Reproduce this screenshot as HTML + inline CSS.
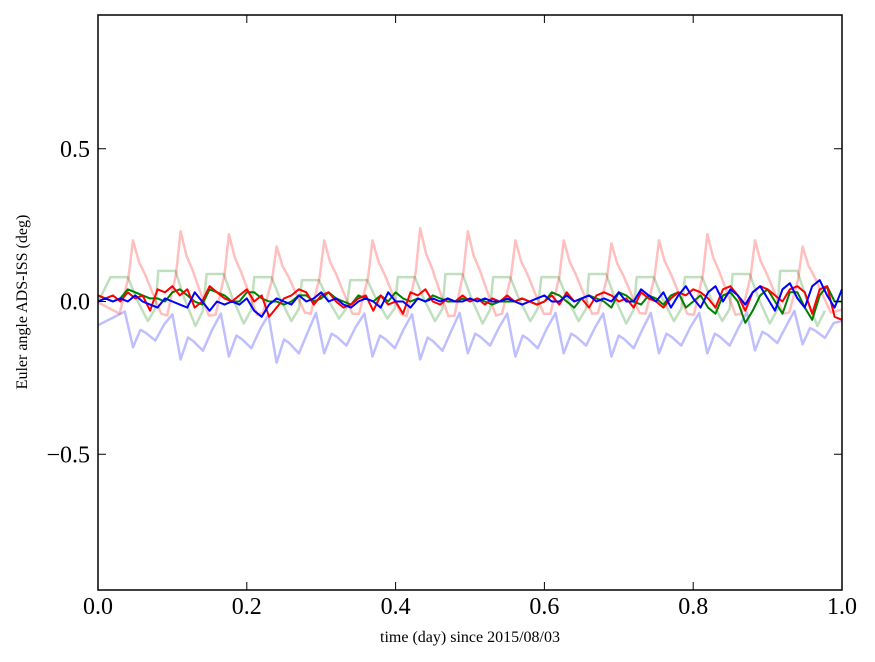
<!DOCTYPE html>
<html><head><meta charset="utf-8"><style>
body{margin:0;background:#fff;}
svg{display:block;font-family:"Liberation Serif",serif;}
</style></head><body>
<svg id="chart" width="875" height="662" viewBox="0 0 875 662">
<rect x="0" y="0" width="875" height="662" fill="#fff"/>
<defs><clipPath id="clip"><rect x="98" y="15" width="744" height="575"/></clipPath></defs>
<g id="series" clip-path="url(#clip)"></g>
<rect x="98" y="15" width="744" height="575" fill="none" stroke="#000" stroke-width="1.5"/>
<g id="ticks"></g>
<text x="470" y="642" font-size="16" text-anchor="middle">time (day) since 2015/08/03</text>
<text transform="translate(27,302) rotate(-90)" font-size="16" text-anchor="middle">Euler angle ADS-ISS (deg)</text>
</svg>
<script>
const xTicks=[0,0.2,0.4,0.6,0.8,1.0];
const xTickLabels=["0.0","0.2","0.4","0.6","0.8","1.0"];
const yTicks=[-0.5,0,0.5];
const yTickLabels=["\u22120.5","0.0","0.5"];
// orbital peak times (day) for light series
const orbitTimes=[0.047,0.111,0.176,0.240,0.304,0.369,0.433,0.497,0.561,0.626,0.690,0.754,0.819,0.883,0.947];
const pinkPeaks=[0.20,0.23,0.22,0.18,0.20,0.20,0.24,0.23,0.20,0.20,0.19,0.20,0.22,0.20,0.18];
const lightBlueDips=[-0.15,-0.19,-0.18,-0.20,-0.17,-0.18,-0.19,-0.17,-0.18,-0.17,-0.18,-0.17,-0.17,-0.16,-0.14];
const lightGreenPeaks=[0.08,0.10,0.09,0.08,0.07,0.07,0.08,0.09,0.08,0.08,0.09,0.08,0.08,0.09,0.10];
const pinkShapeOffsets=[-0.018,-0.006,0,0.008,0.016,0.026,0.038];
const pinkShape=[-0.2,0.4,1,0.65,0.45,0.15,-0.2];
const blueShapeOffsets=[-0.011,0,0.01,0.017,0.03,0.042];
const blueShape=[0.22,1,0.62,0.68,0.85,0.5];
const greenShapeOffsets=[-0.03,-0.007,0.005,0.02,0.03];
const greenShape=[1,1,0.1,-0.8,-0.3];
const darkRed=[0.02,0.01,0.02,0.00,0.03,0.01,0.02,-0.03,0.04,0.03,0.05,0.02,0.04,-0.02,0.00,0.05,0.03,0.01,0.00,0.02,0.04,0.00,0.02,-0.05,-0.02,0.01,0.02,0.04,0.03,-0.01,0.02,0.03,0.00,-0.02,-0.01,0.01,0.02,-0.03,0.02,-0.01,0.00,-0.04,0.03,0.02,0.04,0.00,-0.01,0.01,0.00,0.02,0.00,0.01,-0.01,0.01,0.00,0.02,0.00,0.01,0.00,-0.01,0.00,0.02,-0.01,0.03,0.00,0.01,-0.02,0.02,0.03,0.02,0.00,0.01,-0.02,0.03,0.01,0.00,-0.02,0.01,0.03,0.02,0.04,0.03,0.01,-0.02,0.04,0.05,0.02,-0.03,0.03,0.05,0.04,0.02,0.00,0.04,0.05,0.03,-0.04,0.04,0.05,-0.05,-0.06];
const darkGreen=[0.02,0.01,0.00,0.01,0.04,0.03,0.02,0.01,0.01,0.00,0.03,0.04,0.02,0.00,-0.01,0.04,0.03,0.02,0.00,0.00,0.03,0.03,0.01,0.00,0.00,-0.01,0.00,0.02,0.02,0.00,0.01,0.03,0.01,0.00,-0.01,0.02,0.01,0.00,0.02,0.00,0.03,0.01,0.00,0.01,0.00,0.02,0.01,0.00,0.00,0.01,0.00,0.01,0.00,-0.01,0.00,0.00,0.00,0.01,0.00,-0.01,0.00,0.03,0.02,0.00,-0.02,0.01,0.02,0.01,0.00,-0.02,0.03,0.02,0.00,-0.01,0.02,0.01,-0.01,0.02,0.03,-0.02,0.00,0.02,-0.02,-0.04,0.02,0.03,0.00,-0.07,-0.03,0.02,0.04,0.00,-0.04,0.03,0.03,-0.02,-0.06,0.02,0.05,0.00,0.00];
const darkBlue=[0.00,0.01,0.00,0.01,0.00,0.02,0.00,-0.01,-0.02,0.01,0.00,-0.01,-0.02,0.03,0.00,-0.03,0.00,-0.01,0.00,-0.01,0.01,-0.03,-0.05,-0.01,0.01,0.00,-0.01,0.02,0.00,0.01,0.03,0.00,0.01,-0.01,-0.02,0.00,0.01,0.00,-0.02,0.03,0.00,0.00,-0.02,0.01,0.00,0.01,0.00,0.01,0.00,0.00,0.01,0.00,0.01,0.00,0.00,0.01,0.00,-0.01,0.00,0.01,0.02,0.00,0.00,0.02,0.00,0.01,0.02,0.00,0.01,0.00,0.03,0.00,0.00,0.04,0.02,0.00,0.03,-0.02,0.02,0.05,0.01,-0.02,0.03,0.05,0.00,0.04,0.02,-0.01,0.03,0.05,0.01,-0.03,0.04,0.06,0.01,-0.02,0.05,0.07,0.02,-0.02,0.04];

const X=t=>98+t*744;
const Y=v=>301.5-v*305.5;
const NS="http://www.w3.org/2000/svg";
const gS=document.getElementById('series');
const gT=document.getElementById('ticks');

function orbitPts(offs,shape,amps){
  const p=[];
  orbitTimes.forEach((tp,k)=>{offs.forEach((o,i)=>p.push([tp+o,shape[i]*amps[k]]));});
  return p;
}
function drawLine(pts,color,op,w,name){
  const el=document.createElementNS(NS,'polyline');
  el.setAttribute('points',pts.map(p=>X(p[0]).toFixed(1)+','+Y(p[1]).toFixed(1)).join(' '));
  el.setAttribute('fill','none');el.setAttribute('stroke',color);
  el.setAttribute('stroke-opacity',op);el.setAttribute('stroke-width',w);
  el.setAttribute('stroke-linejoin','round');
  
  
  gS.appendChild(el);
}
const gp=orbitPts(greenShapeOffsets,greenShape,lightGreenPeaks);gp.unshift([-0.01,-0.05]);
const bp=orbitPts(blueShapeOffsets,blueShape,lightBlueDips);bp.unshift([-0.01,-0.09]);bp.push([1.01,-0.06]);
const pp=orbitPts(pinkShapeOffsets,pinkShape,pinkPeaks);pp.unshift([-0.01,0.01]);pp.push([1.01,-0.02]);
drawLine(bp,'#0000ff',0.25,2.5,'roll-reference-line');
drawLine(gp,'#008000',0.25,2.5,'pitch-reference-line');
drawLine(pp,'#ff0000',0.25,2.5,'yaw-reference-line');
const dt=t=>t.map((v,i)=>[i/(t.length-1),v]);
drawLine(dt(darkGreen),'#008000',1,2,'pitch-line');
drawLine(dt(darkRed),'#ff0000',1,2,'yaw-line');
drawLine(dt(darkBlue),'#0000ff',1,2,'roll-line');

function mk(tag,attrs,name){const e=document.createElementNS(NS,tag);for(const k in attrs)e.setAttribute(k,attrs[k]);
  
  
  gT.appendChild(e);return e;}
xTicks.forEach((t,i)=>{
  mk('line',{x1:X(t),x2:X(t),y1:590,y2:582,stroke:'#000'},'x-tick');
  mk('line',{x1:X(t),x2:X(t),y1:15,y2:23,stroke:'#000'},'x-tick-top');
  const tx=mk('text',{x:X(t),y:614,'font-size':24,'text-anchor':'middle'},'x-tick-label');tx.textContent=xTickLabels[i];
});
yTicks.forEach((v,i)=>{
  mk('line',{x1:98,x2:106,y1:Y(v),y2:Y(v),stroke:'#000'},'y-tick');
  mk('line',{x1:842,x2:834,y1:Y(v),y2:Y(v),stroke:'#000'},'y-tick-right');
  const tx=mk('text',{x:90,y:Y(v)+8,'font-size':24,'text-anchor':'end'},'y-tick-label');tx.textContent=yTickLabels[i];
});
</script>
</body></html>
